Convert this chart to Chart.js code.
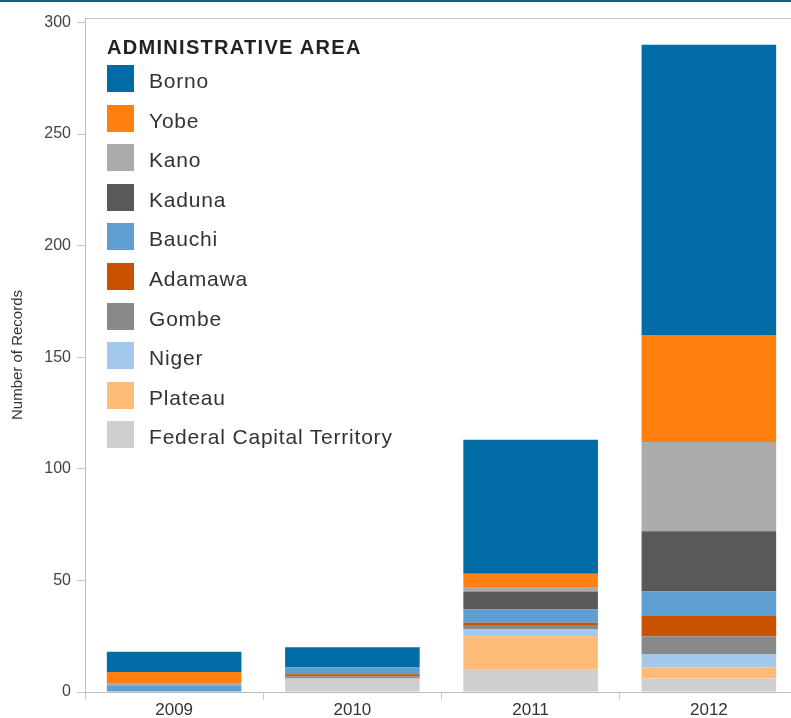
<!DOCTYPE html>
<html>
<head>
<meta charset="utf-8">
<script src="https://cdn.jsdelivr.net/npm/chart.js@4/dist/chart.umd.min.js"></script>
<style>
    html, body { margin: 0; padding: 0; background: #fff; }
    #wrap { position: relative; width: 791px; height: 718px; overflow: hidden; }
    #topbar { position: absolute; left: 0; top: 0; width: 791px; height: 2px; background: #17607c; }
    #box { position: absolute; left: 0; top: 0; width: 798px; height: 718px; }
    #legend { position: absolute; left: 107px; top: 37px; font-family: "Liberation Sans", Arial, sans-serif; }
    #legend .title { font-weight: bold; font-size: 20px; line-height: 20px; letter-spacing: 1.3px; color: #222; }
    #legend .item { position: absolute; left: 0; height: 27px; white-space: nowrap; }
    #legend .sw { position: absolute; left: 0; top: 0; width: 27px; height: 27px; }
    #legend .lbl { position: absolute; left: 42px; top: 2px; font-size: 21px; line-height: 27px; letter-spacing: 0.8px; color: #333; }
</style>
</head>
<body>
<div id="wrap">
    <div id="box"><canvas id="chart" width="798" height="718"></canvas></div>
    <div id="legend"></div>
    <div id="topbar"></div>
</div>
<script>
    // Categories and series (stacked, Borno on top, FCT at bottom)
    var years = ['2009', '2010', '2011', '2012'];
    var areas = ['Borno', 'Yobe', 'Kano', 'Kaduna', 'Bauchi', 'Adamawa', 'Gombe', 'Niger', 'Plateau', 'Federal Capital Territory'];
    var areaColors = ['#006BA4', '#FF800E', '#ABABAB', '#595959', '#5F9ED1', '#C85200', '#898989', '#A2C8EC', '#FFBC79', '#CFCFCF'];

    var borno   = [9, 9, 60, 130];
    var yobe    = [5, 0, 6, 48];
    var kano    = [1, 0, 2, 40];
    var kaduna  = [0, 0, 8, 27];
    var bauchi  = [3, 3, 6, 11];
    var adamawa = [0, 1, 1, 9];
    var gombe   = [0, 1, 2, 8];
    var niger   = [0, 0, 3, 6];
    var plateau = [0, 0, 15, 5];
    var fct     = [0, 6, 10, 6];

    var yTicks = [0, 50, 100, 150, 200, 250, 300];

    var series = [borno, yobe, kano, kaduna, bauchi, adamawa, gombe, niger, plateau, fct];

    // first dataset sits at the bottom of the stack, so go from FCT up to Borno
    var datasets = [];
    for (var i = areas.length - 1; i >= 0; i--) {
        datasets.push({
            label: areas[i],
            data: series[i],
            backgroundColor: areaColors[i],
            borderWidth: 0,
            categoryPercentage: 1.0,
            barPercentage: 0.755
        });
    }

    var axisFont = '"Liberation Sans", Arial, sans-serif';

    // grey line along the top of the plot area
    var topFrame = {
        id: 'topFrame',
        afterDraw: function(chart) {
            var ctx = chart.ctx;
            var a = chart.chartArea;
            ctx.save();
            ctx.strokeStyle = '#c8c8c8';
            ctx.lineWidth = 1;
            ctx.beginPath();
            ctx.moveTo(a.left, a.top + 0.5);
            ctx.lineTo(a.right, a.top + 0.5);
            ctx.stroke();
            ctx.restore();
        }
    };

    var chart = new Chart(document.getElementById('chart'), {
        type: 'bar',
        data: { labels: years, datasets: datasets },
        options: {
            responsive: false,
            animation: false,
            layout: { padding: { top: 18, left: 0, right: 0, bottom: 0 } },
            plugins: {
                legend: { display: false },
                tooltip: { enabled: false }
            },
            scales: {
                x: {
                    stacked: true,
                    afterFit: function(scale) { scale.height = 26; },
                    grid: {
                        offset: true,
                        drawOnChartArea: false,
                        drawTicks: true,
                        tickLength: 8,
                        color: '#c8c8c8'
                    },
                    border: { display: true, color: '#bdbdbd' },
                    ticks: {
                        color: '#333',
                        padding: 0,
                        font: { family: axisFont, size: 17 }
                    }
                },
                y: {
                    stacked: true,
                    min: 0,
                    max: 302,
                    afterFit: function(scale) { scale.width = 85; },
                    afterBuildTicks: function(scale) {
                        scale.ticks = yTicks.map(function(v) { return { value: v }; });
                    },
                    grid: {
                        drawOnChartArea: false,
                        drawTicks: true,
                        tickLength: 8,
                        color: '#c8c8c8'
                    },
                    border: { display: true, color: '#bdbdbd' },
                    ticks: {
                        color: '#444',
                        padding: 6,
                        font: { family: axisFont, size: 16 }
                    },
                    title: {
                        display: true,
                        text: 'Number of Records',
                        color: '#333',
                        padding: { top: 9, bottom: 0 },
                        font: { family: axisFont, size: 15 }
                    }
                }
            }
        },
        plugins: [topFrame]
    });

    // legend inside the plot, built from the chart's datasets (Borno first)
    var legend = document.getElementById('legend');
    var title = document.createElement('div');
    title.className = 'title';
    title.textContent = 'ADMINISTRATIVE AREA';
    legend.appendChild(title);

    var items = chart.data.datasets.slice().reverse();
    items.forEach(function(ds, idx) {
        var item = document.createElement('div');
        item.className = 'item';
        item.style.top = (28 + idx * 39.6) + 'px';
        var sw = document.createElement('div');
        sw.className = 'sw';
        sw.style.background = ds.backgroundColor;
        var lbl = document.createElement('div');
        lbl.className = 'lbl';
        lbl.textContent = ds.label;
        item.appendChild(sw);
        item.appendChild(lbl);
        legend.appendChild(item);
    });
</script>
</body>
</html>
